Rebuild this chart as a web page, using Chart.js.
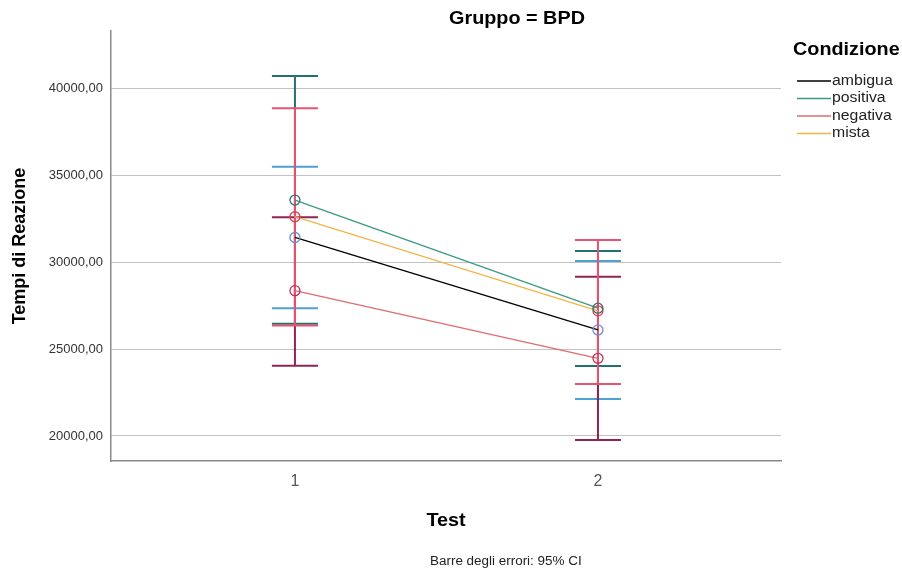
<!DOCTYPE html>
<html>
<head>
<meta charset="utf-8">
<script src="https://cdn.jsdelivr.net/npm/chart.js@4.4.1/dist/chart.umd.min.js"></script>
<style>
  html, body { margin: 0; padding: 0; background: #fff; }
  #c { display: block; }
</style>
</head>
<body>
<canvas id="c" width="902" height="572"></canvas>
<script>
// data
var testLevels = [1, 2];
var yTicks = [20000, 25000, 30000, 35000, 40000];
var seriesNames = ['ambigua', 'positiva', 'negativa', 'mista'];

var meanAmbigua  = [31420, 26100];
var meanPositiva = [33575, 27350];
var meanNegativa = [28360, 24470];
var meanMista    = [32614, 27200];

var lowAmbigua  = [27345, 22128];
var highAmbigua = [35490, 30066];
var lowPositiva  = [26450, 24026];
var highPositiva = [40708, 30641];
var lowNegativa  = [24044, 19770];
var highNegativa = [32580, 29163];
var lowMista  = [26350, 22990];
var highMista = [38850, 31274];

var lineColors = ['#000000', '#3a9a82', '#e06a70', '#f2b447'];
var markerColors = ['#6a8cc8', '#3f6f70', '#c0305a', '#d8405a'];
var barColors = ['#4aa3d2', '#22706f', '#8e2552', '#e8536e'];

var means = [meanAmbigua, meanPositiva, meanNegativa, meanMista];
var lows = [lowAmbigua, lowPositiva, lowNegativa, lowMista];
var highs = [highAmbigua, highPositiva, highNegativa, highMista];

var FONT = '"Liberation Sans", Arial, sans-serif';

// error bars, drawn through the chart scales
var errorBars = {
  id: 'errorBars',
  beforeDatasetsDraw: function (chart) {
    var ctx = chart.ctx, xs = chart.scales.x, ys = chart.scales.y;
    ctx.save();
    ctx.lineWidth = 2;
    for (var s = 0; s < seriesNames.length; s++) {
      ctx.strokeStyle = barColors[s];
      for (var i = 0; i < testLevels.length; i++) {
        var x = xs.getPixelForValue(testLevels[i]);
        var yl = ys.getPixelForValue(lows[s][i]);
        var yh = ys.getPixelForValue(highs[s][i]);
        ctx.beginPath();
        ctx.moveTo(x, yl); ctx.lineTo(x, yh);
        ctx.moveTo(x - 23, yl); ctx.lineTo(x + 23, yl);
        ctx.moveTo(x - 23, yh); ctx.lineTo(x + 23, yh);
        ctx.stroke();
      }
    }
    ctx.restore();
  }
};

// the source picture is a bit wider than tall, so text is stretched sideways
function wideText(ctx, txt, x, y, sx, align) {
  ctx.save();
  ctx.translate(x, y);
  ctx.scale(sx, 1);
  ctx.textAlign = align;
  ctx.fillText(txt, 0, 0);
  ctx.restore();
}

// titles, legend and footnote
var texts = {
  id: 'texts',
  afterDraw: function (chart) {
    var ctx = chart.ctx;
    ctx.save();
    ctx.fillStyle = '#000';
    ctx.textBaseline = 'middle';

    ctx.font = 'bold 18px ' + FONT;
    wideText(ctx, 'Gruppo = BPD', 517, 19, 1.1, 'center');
    wideText(ctx, 'Test', 446, 521, 1.1, 'center');

    ctx.save();
    ctx.translate(20, 246);
    ctx.rotate(-Math.PI / 2);
    ctx.font = 'bold 18px ' + FONT;
    ctx.textAlign = 'center';
    ctx.fillText('Tempi di Reazione', 0, 0);
    ctx.restore();

    ctx.font = '12px ' + FONT;
    ctx.fillStyle = '#222';
    wideText(ctx, 'Barre degli errori: 95% CI', 430, 562, 1.12, 'left');

    // legend
    ctx.fillStyle = '#000';
    ctx.font = 'bold 18px ' + FONT;
    wideText(ctx, 'Condizione', 793, 50, 1.1, 'left');
    ctx.font = '14px ' + FONT;
    for (var s = 0; s < seriesNames.length; s++) {
      var y = 81 + s * 17.5;
      ctx.strokeStyle = lineColors[s];
      ctx.lineWidth = 1.5;
      ctx.beginPath();
      ctx.moveTo(797, y); ctx.lineTo(831, y);
      ctx.stroke();
      ctx.fillStyle = '#222';
      wideText(ctx, seriesNames[s], 832, y, 1.13, 'left');
    }
    ctx.restore();
  }
};

var datasets = seriesNames.map(function (name, s) {
  return {
    label: name,
    data: testLevels.map(function (t, i) { return { x: t, y: means[s][i] }; }),
    borderColor: lineColors[s],
    borderWidth: 1.3,
    pointRadius: 5,
    pointHoverRadius: 5,
    pointBorderWidth: 1.3,
    pointBorderColor: markerColors[s],
    pointBackgroundColor: 'rgba(0,0,0,0)',
    fill: false,
    tension: 0
  };
});

new Chart(document.getElementById('c').getContext('2d'), {
  type: 'line',
  data: { datasets: datasets },
  plugins: [errorBars, texts],
  options: {
    responsive: false,
    animation: false,
    events: [],
    layout: { padding: { left: 0, right: 121, top: 31, bottom: 0 } },
    plugins: { legend: { display: false }, tooltip: { enabled: false } },
    scales: {
      x: {
        type: 'linear',
        min: 0.393,
        max: 2.604,
        grid: { display: false, drawTicks: false },
        border: { color: '#8a8a8a', width: 1.5 },
        ticks: {
          color: '#555',
          font: { family: FONT, size: 16 },
          padding: 11,
          callback: function (v) { return String(v); }
        },
        afterBuildTicks: function (scale) {
          scale.ticks = testLevels.map(function (v) { return { value: v }; });
        },
        afterFit: function (scale) { scale.height = 111; }
      },
      y: {
        min: 18560,
        max: 43300,
        grid: { color: '#c2c2c2', lineWidth: 1, drawTicks: false },
        border: { color: '#8a8a8a', width: 1.5 },
        ticks: {
          color: '#333',
          font: { family: FONT, size: 13 },
          padding: 8,
          callback: function (v) { return v.toFixed(2).replace('.', ','); }
        },
        afterBuildTicks: function (scale) {
          scale.ticks = yTicks.map(function (v) { return { value: v }; });
        },
        afterFit: function (scale) { scale.width = 111; }
      }
    }
  }
});
</script>
</body>
</html>
